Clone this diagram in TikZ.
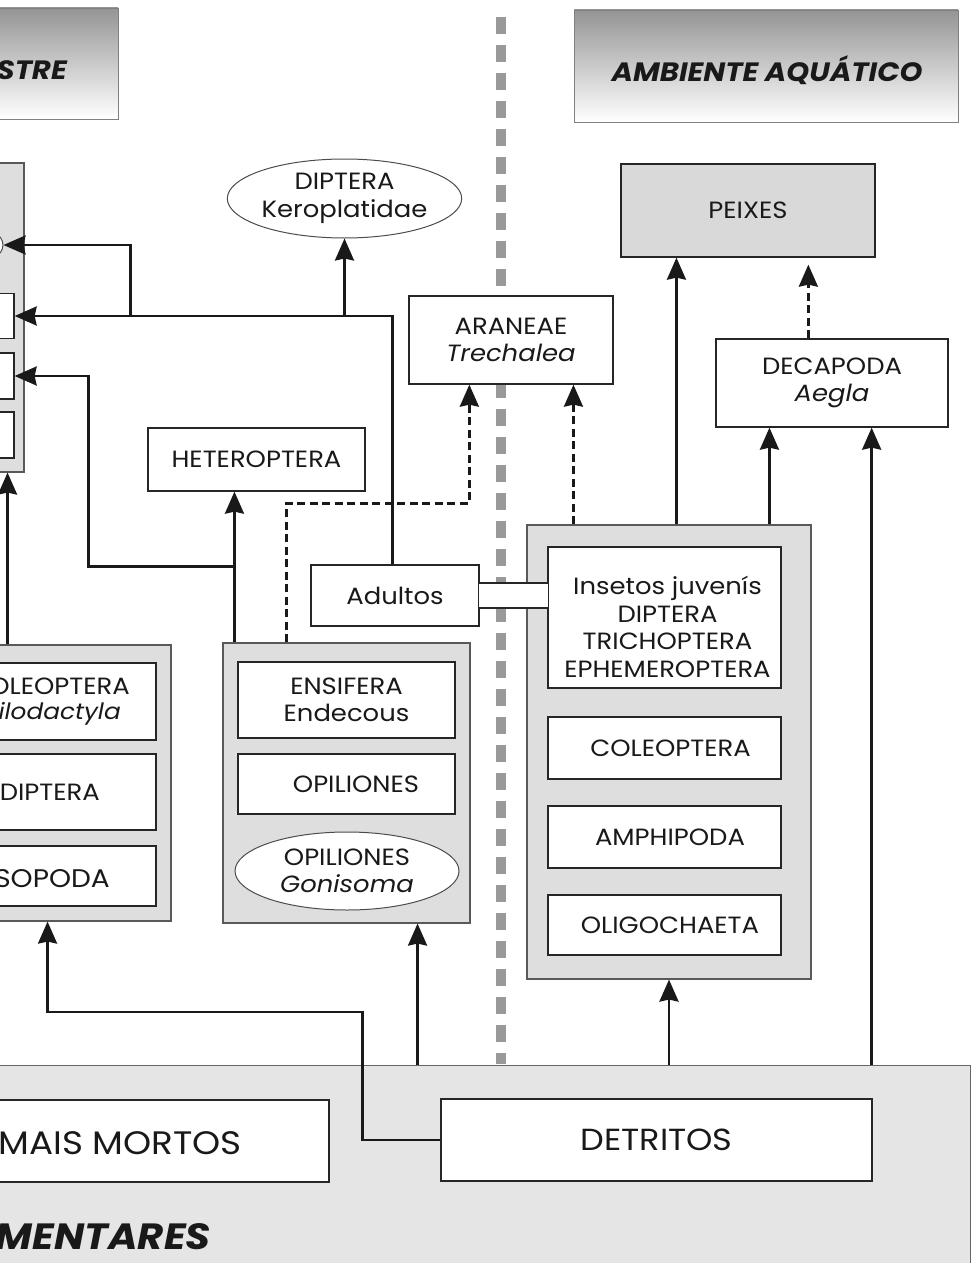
\documentclass[tikz,border=0pt]{standalone}
\usepackage{fontspec}
\setmainfont{Poppins}[FakeStretch=1.1]
\usetikzlibrary{shapes.geometric,arrows.meta,calc}
\newcommand\fs{\fontsize{23.5}{27.5}\selectfont}
\newcommand\hf{\fontsize{26.5}{30}\selectfont\bfseries\itshape}
\begin{document}
\begin{tikzpicture}[x=1pt,y=-1pt,
  box/.style={draw=black!85, line width=1.3pt, fill=white, inner sep=0pt, align=center, font=\fs, text=black!90},
  grp/.style={draw=black!65, line width=1.1pt, fill=black!13, inner sep=0pt},
  oval/.style={ellipse, draw=black!70, line width=1pt, fill=white, inner sep=0pt, align=center, font=\fs, text=black!90},
  txt/.style={inner sep=0pt, font=\fs, text=black!90, align=center},
  conn/.style={line width=2.6pt, draw=black!90, -{Stealth[length=22pt,width=19pt,inset=2pt]}},
  dconn/.style={conn, dash pattern=on 8pt off 4.5pt},
  hdr/.style={draw=black!50, line width=0.8pt, top color=black!42, bottom color=white, inner sep=0pt},
  hdrtxt/.style={inner sep=0pt, font=\hf, text=black!90},
  divider/.style={line width=10pt, draw=black!40, dash pattern=on 17pt off 11pt},
  chan/.style={line width=1.3pt, draw=black!85}
]
\useasboundingbox (0,0) rectangle (972,1263);
\clip (0,0) rectangle (972,1263);

% headers
\node[hdr, minimum width=420pt, minimum height=111pt] (hdrL) at (-92,63.5) {};
\node[hdrtxt, anchor=east] (hdrLt) at (67,70) {AMBIENTE TERRESTRE};
\node[hdr, minimum width=384pt, minimum height=112pt] (hdrR) at (766,66) {};
\node[hdrtxt] (hdrRt) at (767,70) {AMBIENTE AQUÁTICO};

% divider
\coordinate (dv1) at (501,17);
\coordinate (dv2) at (501,1064);
\draw[divider] (dv1) -- (dv2);

% bottom band
\node[draw=black!60, line width=1pt, fill=black!10, inner sep=0pt, minimum width=990pt, minimum height=220pt] (band) at (475,1175) {};
\node[box, minimum width=635pt, minimum height=82pt] (mortos) at (11.5,1141) {};
\node[txt, anchor=east, font=\fontsize{32.5}{34}\selectfont] (mortost) at (242,1143) {ANIMAIS MORTOS};
\node[box, minimum width=431pt, minimum height=82pt, font=\fontsize{30.5}{34}\selectfont] (detr) at (656.5,1140) {DETRITOS};
\node[hdrtxt, anchor=east, font=\fontsize{36.5}{40}\selectfont\bfseries\itshape] (recur) at (211,1237) {RECURSOS ALIMENTARES};

% left big group
\node[grp, minimum width=330pt, minimum height=309pt] (bigL) at (-141,317.5) {};
\node[oval, minimum width=226pt, minimum height=70pt] (ellL) at (-110,245) {};
\node[box, minimum width=320pt, minimum height=45pt] (L1) at (-146,316) {};
\node[box, minimum width=320pt, minimum height=46pt] (L2) at (-146,376) {};
\node[box, minimum width=320pt, minimum height=46pt] (L3) at (-146,435) {};

% top nodes
\node[oval, minimum width=223pt, minimum height=79pt] (kero) at (344.5,198.5) {DIPTERA\\Keroplatidae};
\node[box, minimum width=217pt, minimum height=63pt] (het) at (256.5,459.5) {HETEROPTERA};
\node[box, minimum width=204pt, minimum height=88pt] (aran) at (511,340) {ARANEAE\\\textit{Trechalea}};
\node[box, fill=black!15, minimum width=254pt, minimum height=93pt] (peix) at (748,210.5) {PEIXES};
\node[box, minimum width=232pt, minimum height=88pt] (deca) at (832,383) {DECAPODA\\\textit{Aegla}};

% left lower group
\node[grp, minimum width=477pt, minimum height=276pt] (grpC) at (-67.5,783) {};
\node[box, minimum width=462pt, minimum height=77pt] (colA) at (-75,701.5) {};
\node[box, minimum width=462pt, minimum height=76pt] (colB) at (-75,792) {};
\node[box, minimum width=462pt, minimum height=60pt] (colC) at (-75,876) {};
\node[txt, anchor=east] (colAt1) at (130,686) {COLEOPTERA};
\node[txt, anchor=east, font=\fontsize{22.5}{27}\selectfont] (colAt2) at (121,714) {\textit{Ptilodactyla}};
\node[txt, anchor=east] (colBt) at (100,792) {DIPTERA};
\node[txt, anchor=east, font=\fontsize{25.5}{27}\selectfont] (colCt) at (110,879) {ISOPODA};

% ensifera group
\node[grp, minimum width=247pt, minimum height=280pt] (grpE) at (346.5,783) {};
\node[box, minimum width=217pt, minimum height=76pt] (ensA) at (346.5,700) {ENSIFERA\\Endecous};
\node[box, minimum width=217pt, minimum height=60pt] (ensB) at (346.5,784) {\hspace*{19pt}OPILIONES};
\node[oval, minimum width=224pt, minimum height=78pt] (ensC) at (347,871) {OPILIONES\\\textit{Gonisoma}};

% aquatic group
\node[grp, minimum width=284pt, minimum height=454pt] (grpI) at (669,752) {};
\node[box, minimum width=233pt, minimum height=141pt] (insA) at (664.5,617.5) {};
\node[txt] (insAt) at (667.5,627) {Insetos juvenís\\DIPTERA\\TRICHOPTERA\\EPHEMEROPTERA};
\node[box, minimum width=233pt, minimum height=62pt] (insB) at (664.5,748) {\hspace*{12pt}COLEOPTERA};
\node[box, minimum width=233pt, minimum height=62pt] (insC) at (664.5,837) {\hspace*{11pt}AMPHIPODA};
\node[box, minimum width=233pt, minimum height=60pt] (insD) at (664.5,925) {\hspace*{11pt}OLIGOCHAETA};

% Adultos with channel
\node[box, minimum width=168pt, minimum height=61pt] (adul) at (395,595.5) {Adultos};
\path (adul.east) ++(0,-12.5) coordinate (ch1);
\path (adul.east) ++(0,12.5) coordinate (ch2);
\fill[white] ($(ch1)+(-1,0.7)$) rectangle ($(ch2 -| insA.west)+(1,-0.7)$);
\draw[chan] (ch1) -- (ch1 -| insA.west);
\draw[chan] (ch2) -- (ch2 -| insA.west);

% helper coordinates
\path (adul.north west) ++(82,0) coordinate (a1);
\path (L1.east) ++(116,0) coordinate (a2);
\path (grpE.north west) ++(12,0) coordinate (e1);
\path (e1) ++(0,-76) coordinate (e3);
\path (grpE.north west) ++(64,0) coordinate (e2);
\path (grpI.north west) ++(47,0) coordinate (i1);
\path (grpI.north west) ++(150,0) coordinate (i2);
\path (grpI.north west) ++(243,0) coordinate (i3);
\path (grpC.north east) ++(-164,0) coordinate (c1);
\path (grpE.south east) ++(-53,0) coordinate (k1);
\path (deca.south east) ++(-77,0) coordinate (k3);
\path (deca.north west) ++(93,0) coordinate (d1);

% connectors
\draw[conn] (a1) |- (L1.east);
\draw[conn] (kero.south |- L1.east) -- (kero.south);
\draw[conn] (a2) |- (ellL.east);
\draw[conn] (e1) -- (e1 |- het.south);
\draw[conn] (e3) -| ($(L2.east)+(74,0)$) -- (L2.east);
\draw[conn] (c1) -- (c1 |- bigL.south);
\draw[dconn] (e2) -- ++(0,-139) -| ($(aran.south west)+(61,0)$);
\draw[dconn] (i1) -- (i1 |- aran.south);
\draw[conn] (i2) -- (i2 |- peix.south);
\draw[conn] (i3) -- (i3 |- deca.south);
\draw[dconn, shorten >=7pt] (d1) -- (d1 |- peix.south);
\draw[conn] (k3 |- band.north) -- (k3);
\draw[conn] (grpI.south |- band.north) -- (grpI.south);
\draw[conn] (k1 |- band.north) -- (k1);
\draw[conn] (detr.west) -- ++(-78,0) -- ++(0,-128) -| ($(grpC.south east)+(-124,0)$);
\end{tikzpicture}
\end{document}
